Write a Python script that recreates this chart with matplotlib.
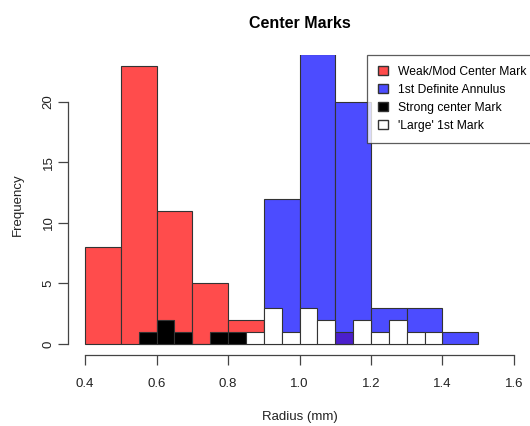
import matplotlib
matplotlib.use("Agg")
import matplotlib.pyplot as plt
from matplotlib.patches import Patch

plt.rcParams['font.family'] = ['Liberation Sans', 'DejaVu Sans']

# histogram bins (left edges) and counts
weak_bins = [0.4, 0.5, 0.6, 0.7, 0.8]
weak_counts = [8, 23, 11, 5, 2]

annulus_bins = [0.9, 1.0, 1.1, 1.2, 1.3, 1.4]
annulus_counts = [12, 24, 20, 3, 3, 1]

strong_bins = [0.55, 0.60, 0.65, 0.70, 0.75, 0.80, 1.10]
strong_counts = [1, 2, 1, 0, 1, 1, 1]

large_bins = [0.85, 0.90, 0.95, 1.00, 1.05, 1.10, 1.15, 1.20, 1.25, 1.30, 1.35]
large_counts = [1, 3, 1, 3, 2, 0, 2, 1, 2, 1, 1]

labels = ['Weak/Mod Center Mark', '1st Definite Annulus', 'Strong center Mark', "'Large' 1st Mark"]
red = '#FF4C4C'
blue = '#4C4CFF'

fig = plt.figure(figsize=(5.3, 4.26), dpi=100)
ax = fig.add_axes([68 / 530, 1 - 355 / 426, 463 / 530, 300.5 / 426])

ax.bar(weak_bins, weak_counts, width=0.1, align='edge', color=red, edgecolor='#333333', linewidth=0.8)
ax.bar(annulus_bins, annulus_counts, width=0.1, align='edge', color=blue, edgecolor='#333333', linewidth=0.8)
# the strong mark that sits inside the blue bar looks purple
strong_cols = ['#4B1FCC' if b >= 0.9 else 'black' for b in strong_bins]
ax.bar(strong_bins, strong_counts, width=0.05, align='edge', color=strong_cols, edgecolor='#333333', linewidth=0.8)
ax.bar(large_bins, large_counts, width=0.05, align='edge', color='white', edgecolor='#333333', linewidth=0.8)

ax.set_xlim(0.352, 1.648)
ax.set_ylim(-0.92, 23.92)

for s in ['top', 'right']:
    ax.spines[s].set_visible(False)
ax.spines['left'].set_bounds(0, 20)
ax.spines['bottom'].set_bounds(0.4, 1.6)
for s in ['left', 'bottom']:
    ax.spines[s].set_color('#444444')
    ax.spines[s].set_linewidth(0.9)

ax.set_xticks([0.4, 0.6, 0.8, 1.0, 1.2, 1.4, 1.6])
ax.set_xticklabels(['0.4', '0.6', '0.8', '1.0', '1.2', '1.4', '1.6'])
ax.set_yticks([0, 5, 10, 15, 20])
ax.tick_params(axis='both', length=7, width=0.9, color='#444444', labelsize=9.5, labelcolor='#222222')
ax.tick_params(axis='x', pad=9.5)
ax.tick_params(axis='y', pad=2.5)
plt.setp(ax.get_yticklabels(), rotation=90, va='center')

ax.set_xlabel('Radius (mm)', fontsize=9.5, labelpad=15, color='#222222')
ax.set_ylabel('Frequency', fontsize=9.5, labelpad=13.5, color='#222222')
ax.set_title('Center Marks', fontsize=11.5, fontweight='bold', pad=19)

handles = [Patch(facecolor=red, edgecolor='#333333'),
           Patch(facecolor=blue, edgecolor='#333333'),
           Patch(facecolor='black', edgecolor='#333333'),
           Patch(facecolor='white', edgecolor='#333333')]
leg = fig.legend(handles, labels, loc='upper left', bbox_to_anchor=(367 / 530, 1 - 55 / 426),
                 fontsize=8.7, frameon=True, fancybox=False, edgecolor='#333333',
                 handlelength=0.8, handleheight=0.8, handletextpad=0.9,
                 borderpad=0.9, labelspacing=0.5, borderaxespad=0)
leg.get_frame().set_linewidth(0.9)

fig.savefig('out.png', dpi=100)
